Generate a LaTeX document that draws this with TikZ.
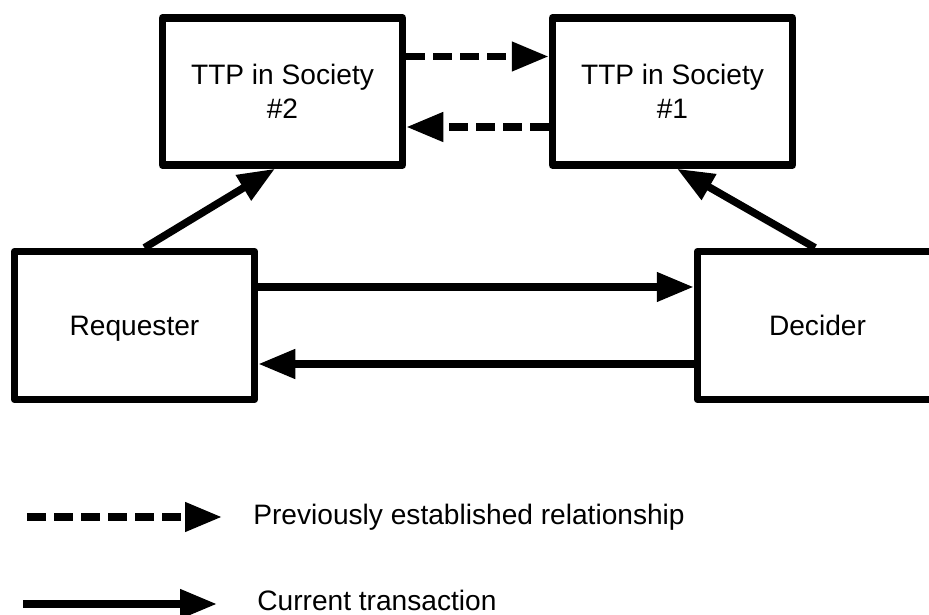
\documentclass[tikz,border=0pt]{standalone}
\usepackage{fontspec}
\setmainfont{Liberation Sans}
\usepackage{tikz}
\usetikzlibrary{arrows.meta, positioning, calc}
\definecolor{mydark}{RGB}{0,0,0}
\tikzset{
  box/.style={rectangle, draw=mydark, fill=white,
    minimum width=4.8cm, minimum height=2.94cm, align=center,
    font=\fontsize{16}{19}\selectfont, line width=0.15cm, line join=round},
  arrow/.style={-{Triangle[length=0.74cm, width=0.56cm]}, line width=0.15cm, color=mydark},
  dasharrow/.style={arrow, dash pattern=on 0.38cm off 0.16cm},
  legend/.style={anchor=base west, font=\fontsize{16}{19}\selectfont, inner sep=0pt}
}
\begin{document}
\begin{tikzpicture}
  \clip (0,0) rectangle (18.58,12.3);
  \fill[white] (0,0) rectangle (18.58,12.3);

  % Nodes
  \node[box] (ttp2) at (5.65, 10.47) {TTP in Society\\\#2};
  \node[box] (ttp1) at (13.45, 10.47) {TTP in Society\\\#1};
  \node[box, minimum height=2.96cm, text depth=0pt] (req) at (2.69, 5.79) {Requester};
  \node[box, minimum height=2.96cm, text depth=0pt] (dec) at (16.35, 5.79) {Decider};

  % Previously established relationship
  \draw[dasharrow] ([yshift=0.7cm]ttp2.east) -- ([yshift=0.7cm]ttp1.west);
  \draw[dasharrow] ([yshift=-0.71cm]ttp1.west) -- ([yshift=-0.71cm]ttp2.east);

  % Current transaction
  \draw[arrow] ([yshift=0.77cm]req.east) -- ([yshift=0.77cm]dec.west);
  \draw[arrow] ([yshift=-0.77cm]dec.west) -- ([yshift=-0.77cm]req.east);

  % Links to the TTPs
  \draw[arrow] ([xshift=0.2cm]req.north) -- ([xshift=-0.15cm]ttp2.south);
  \draw[arrow] ([xshift=-0.05cm]dec.north) -- ([xshift=0.09cm]ttp1.south);

  % Legend
  \coordinate (dashA) at (0.54, 1.96);
  \coordinate (dashB) at (4.44, 1.96);
  \coordinate (solidA) at (0.46, 0.22);
  \coordinate (solidB) at (4.34, 0.22);
  \draw[dasharrow] (dashA) -- (dashB);
  \draw[arrow] (solidA) -- (solidB);
  \node[legend] (prevtxt) at (5.06, 1.8) {Previously established relationship};
  \node[legend] (curtxt) at (5.14, 0.08) {Current transaction};
\end{tikzpicture}
\end{document}
